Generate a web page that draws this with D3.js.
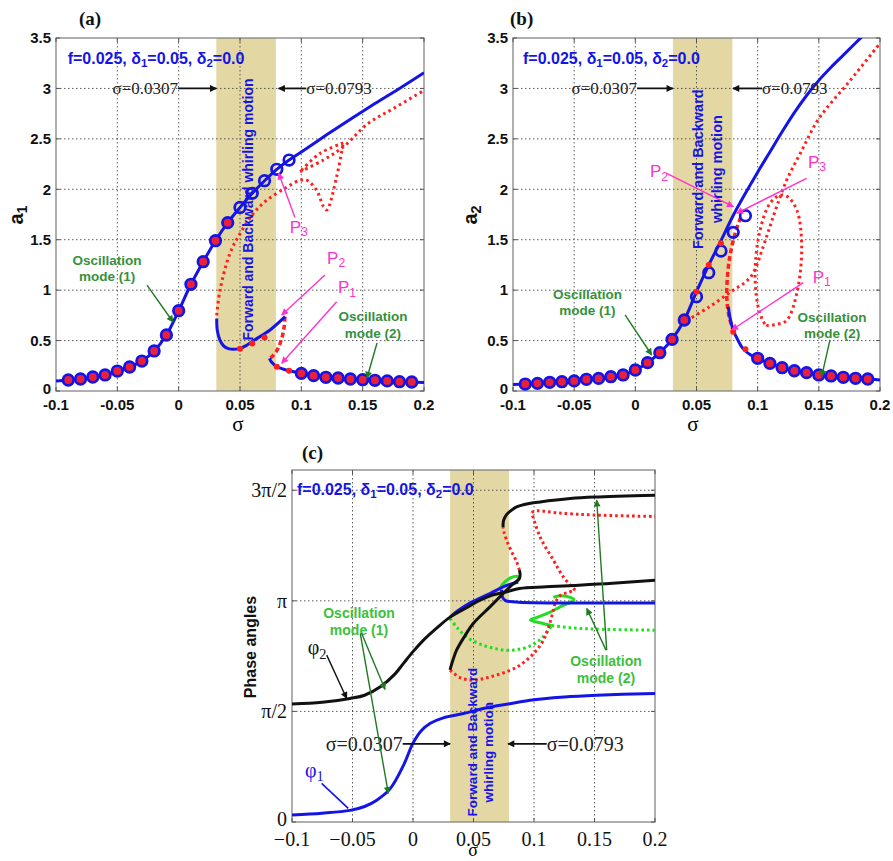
<!DOCTYPE html>
<html>
<head>
<meta charset="utf-8">
<script src="https://cdn.jsdelivr.net/npm/d3@7"></script>
<style>
body { margin: 0; background: #fff; }
svg { display: block; }
</style>
</head>
<body>
<svg id="fig" width="893" height="861"></svg>
<script>
// ---- axis ticks ----
var sigmaTicks = [-0.1, -0.05, 0, 0.05, 0.1, 0.15, 0.2]
var sigmaLabelsAB = ["-0.1", "-0.05", "0", "0.05", "0.1", "0.15", "0.2"]
var sigmaLabelsC = ["\u22120.1", "\u22120.05", "0", "0.05", "0.1", "0.15", "0.2"]
var ampTicks = [0, 0.5, 1, 1.5, 2, 2.5, 3, 3.5]
var ampLabels = ["0", "0.5", "1", "1.5", "2", "2.5", "3", "3.5"]
var phaseTicks = [0, Math.PI / 2, Math.PI, 3 * Math.PI / 2]
var phaseLabels = ["0", "\u03c0/2", "\u03c0", "3\u03c0/2"]
var whirlBand = [0.0307, 0.0793]

// ---- panel (a): a1 vs sigma ----
var a1Main = [[-0.1,0.1],[-0.09,0.109],[-0.08,0.119],[-0.07,0.139],[-0.06,0.159],[-0.05,0.198],[-0.04,0.238],[-0.03,0.297],[-0.02,0.397],[-0.01,0.555],[0,0.796],[0.01,1.058],[0.02,1.282],[0.03,1.49],[0.04,1.669],[0.05,1.82],[0.06,1.96],[0.07,2.085],[0.08,2.198],[0.09,2.29],[0.1,2.37],[0.12,2.535],[0.14,2.695],[0.16,2.85],[0.18,3.0],[0.2,3.156]]
var a1Mid = [[0.031,0.72],[0.0315,0.6],[0.0335,0.51],[0.0364,0.45],[0.0405,0.42],[0.0446,0.413],[0.05,0.423],[0.055,0.45],[0.061,0.5],[0.0745,0.605],[0.0867,0.737]]
var a1Dash = [[0.0867,0.737],[0.0858,0.62],[0.0835,0.5],[0.08,0.4],[0.076,0.34],[0.074,0.324]]
var a1Low = [[0.074,0.324],[0.0755,0.29],[0.078,0.26],[0.08,0.241],[0.085,0.218],[0.09,0.2],[0.1,0.175],[0.11,0.152],[0.12,0.136],[0.13,0.129],[0.14,0.119],[0.15,0.112],[0.16,0.106],[0.17,0.1],[0.18,0.092],[0.19,0.089],[0.2,0.085]]
var a1Unstable = [[0.031,0.75],[0.0337,1.0],[0.0418,1.365],[0.05,1.56],[0.0608,1.76],[0.0717,1.89],[0.088,2.02],[0.099,2.09],[0.1044,2.09],[0.1125,1.99],[0.118,1.83],[0.1207,1.795],[0.1288,2.125],[0.1342,2.46]]
var a1UnstableBack = [[0.1342,2.46],[0.1152,2.356],[0.0989,2.174]]
var a1UnstableTop = [[0.0989,2.174],[0.118,2.29],[0.1342,2.42],[0.1546,2.654],[0.175,2.8],[0.2,2.98]]
var a1SimStable = [[-0.09,0.109],[-0.08,0.119],[-0.07,0.139],[-0.06,0.159],[-0.05,0.198],[-0.04,0.238],[-0.03,0.297],[-0.02,0.397],[-0.01,0.555],[0,0.796],[0.01,1.058],[0.02,1.282],[0.03,1.49],[0.04,1.669]]
var a1SimOpen = [[0.05,1.82],[0.06,1.96],[0.07,2.085],[0.08,2.198],[0.09,2.29]]
var a1SimLow = [[0.1,0.175],[0.11,0.152],[0.12,0.136],[0.13,0.129],[0.14,0.119],[0.15,0.112],[0.16,0.106],[0.17,0.1],[0.18,0.092],[0.19,0.089]]
var a1SimDots = [[0.05,0.42],[0.06,0.47],[0.07,0.53],[0.08,0.241],[0.09,0.2]]

// ---- panel (b): a2 vs sigma ----
var a2Main = [[-0.1,0.065],[-0.09,0.069],[-0.08,0.076],[-0.07,0.086],[-0.06,0.092],[-0.05,0.1],[-0.04,0.116],[-0.03,0.125],[-0.02,0.142],[-0.01,0.159],[0,0.208],[0.01,0.281],[0.02,0.38],[0.03,0.512],[0.04,0.704],[0.05,0.985],[0.06,1.249],[0.07,1.49],[0.08,1.74],[0.09,1.96],[0.1,2.17],[0.11,2.37],[0.12,2.57],[0.13,2.76],[0.14,2.93],[0.15,3.08],[0.16,3.21],[0.17,3.33],[0.18,3.45],[0.19,3.57]]
var a2Dash = [[0.086,1.72],[0.0815,1.56],[0.078,1.38],[0.076,1.23],[0.0747,0.97],[0.0755,0.82],[0.0774,0.7],[0.08,0.605]]
var a2Low = [[0.076,0.836],[0.0775,0.72],[0.08,0.605],[0.084,0.5],[0.088,0.42],[0.094,0.36],[0.1,0.324],[0.11,0.274],[0.12,0.231],[0.13,0.201],[0.14,0.182],[0.15,0.159],[0.16,0.149],[0.17,0.136],[0.18,0.126],[0.19,0.119],[0.2,0.11]]
var a2Unstable = [[0.042,0.7],[0.06,0.83],[0.08,1.0],[0.09,1.08],[0.0964,1.17],[0.1045,1.43],[0.11,1.63],[0.1156,1.83],[0.1237,2.09],[0.135,2.36],[0.15,2.7],[0.175,3.07],[0.2,3.447]]
var a2Loop = [[0.1019,0.77],[0.107,0.654],[0.115,0.66],[0.1237,0.7],[0.132,0.97],[0.136,1.43],[0.132,1.795],[0.124,1.93],[0.118,1.94],[0.11,1.86],[0.102,1.596],[0.098,1.23],[0.099,0.935]]
var a2SimStable = [[-0.09,0.069],[-0.08,0.076],[-0.07,0.086],[-0.06,0.092],[-0.05,0.1],[-0.04,0.116],[-0.03,0.125],[-0.02,0.142],[-0.01,0.159],[0,0.208],[0.01,0.281],[0.02,0.38],[0.03,0.512],[0.04,0.704]]
var a2SimOpen = [[0.05,0.935],[0.06,1.173],[0.07,1.388],[0.08,1.573],[0.09,1.738]]
var a2SimLow = [[0.1,0.324],[0.11,0.274],[0.12,0.231],[0.13,0.201],[0.14,0.182],[0.15,0.159],[0.16,0.149],[0.17,0.136],[0.18,0.126],[0.19,0.119]]
var a2SimDots = [[0.05,0.985],[0.06,1.249],[0.07,1.464],[0.08,0.588],[0.09,0.413]]

// ---- panel (c): phase angles vs sigma ----
var phi1Main = [[-0.1,0.1],[-0.075,0.125],[-0.052,0.165],[-0.04,0.22],[-0.03,0.31],[-0.019,0.47],[-0.008,0.8],[0,1.12],[0.007,1.3],[0.014,1.4],[0.025,1.48],[0.0416,1.54],[0.06,1.62],[0.08,1.68],[0.0967,1.73],[0.125,1.775],[0.152,1.8],[0.2,1.827]]
var phi2Main = [[-0.1,1.675],[-0.075,1.7],[-0.052,1.755],[-0.04,1.8],[-0.027,1.92],[-0.015,2.1],[-0.008,2.25],[0,2.42],[0.0085,2.58],[0.02,2.76],[0.0306,2.91],[0.045,3.05],[0.0554,3.15],[0.065,3.22],[0.0774,3.27],[0.088,3.317],[0.11,3.34],[0.134,3.36],[0.165,3.39],[0.2,3.435]]
var phi2Upper = [[0.0744,4.19],[0.0748,4.28],[0.077,4.36],[0.0815,4.43],[0.0857,4.475],[0.095,4.52],[0.105,4.546],[0.13,4.594],[0.15,4.615],[0.2,4.641]]
var phi2Z = [[0.0306,2.16],[0.033,2.3],[0.036,2.44],[0.042,2.62],[0.0498,2.82],[0.0636,3.056],[0.0746,3.245],[0.082,3.37],[0.088,3.46],[0.0885,3.52],[0.0879,3.577]]
var phiRedUp = [[0.0879,3.577],[0.0857,3.694],[0.0816,3.836],[0.0774,4.0],[0.0752,4.12],[0.0744,4.19]]
var phiRedLow = [[0.0306,2.157],[0.0389,2.05],[0.0498,2.015],[0.0636,2.06],[0.0857,2.2],[0.0995,2.39],[0.1077,2.58],[0.113,2.82],[0.116,3.01],[0.118,3.13],[0.122,3.22],[0.128,3.26],[0.134,3.293]]
var phiRedBack = [[0.134,3.293],[0.1243,3.48],[0.116,3.72],[0.105,4.05],[0.098,4.4]]
var phiRedTop = [[0.098,4.4],[0.102,4.42],[0.12,4.39],[0.15,4.36],[0.2,4.34]]
var phiBlueUp = [[0.0306,2.91],[0.037,3.0],[0.047,3.11],[0.0636,3.245],[0.0774,3.36],[0.087,3.41]]
var phiBlueFlat = [[0.0733,3.3],[0.0738,3.2],[0.0765,3.145],[0.085,3.125],[0.1,3.115],[0.15,3.112],[0.2,3.11]]
var phiGreenDip = [[0.0306,2.89],[0.037,2.75],[0.045,2.62],[0.055,2.53],[0.065,2.475],[0.0774,2.44],[0.091,2.465],[0.1,2.53],[0.107,2.62],[0.1147,2.79]]
var phiGreenKnot = [[0.1147,2.79],[0.105,2.83],[0.097,2.87],[0.103,2.91],[0.112,2.97],[0.122,3.06],[0.13,3.12],[0.133,3.16],[0.128,3.2],[0.12,3.21],[0.116,3.19]]
var phiGreenFlat = [[0.1147,2.79],[0.13,2.76],[0.15,2.74],[0.2,2.725]]
var phiGreenArc = [[0.072,3.33],[0.076,3.41],[0.081,3.47],[0.0857,3.49],[0.088,3.46]]

// ---- annotation anchors (data units: [sigma, value]) ----
var annA = {params:[-0.0905,3.3], lo:[-0.0005,3.0], hi:[0.104,3.0], loHead:[0.0307,3.0], hiHead:[0.0815,3.0],
  whirl:[0.0565,1.8], osc1:[-0.0584,1.3], osc1Arrow:[[-0.0258,1.05],[-0.0046,0.684]],
  osc2:[0.1584,0.74], osc2Arrow:[[0.1617,0.476],[0.1535,0.129]],
  p3:[0.0905,1.63], p3Arrow:[[0.0948,1.72],[0.0815,2.16]],
  p2:[0.121,1.32], p2Arrow:[[0.1193,1.15],[0.084,0.753]],
  p1:[0.1299,1.03], p1Arrow:[[0.1288,0.885],[0.084,0.275]]}
var annB = {params:[-0.0918,3.3], lo:[0.0014,3.0], hi:[0.1035,3.0], loHead:[0.0307,3.0], hiHead:[0.0798,3.0],
  whirl1:[0.0512,2.2], whirl2:[0.0668,2.2], osc1:[-0.0391,0.962], osc1Arrow:[[-0.0084,0.754],[0.0134,0.357]],
  osc2:[0.1608,0.737], osc2Arrow:[[0.1591,0.506],[0.1523,0.142]],
  p2:[0.012,2.18], p2Arrow:[[0.0256,2.158],[0.0801,1.827]],
  p3:[0.1411,2.27], p3Arrow:[[0.14,2.109],[0.0829,1.762]],
  p1:[0.145,1.133], p1Arrow:[[0.1373,1.074],[0.0788,0.605]]}
var annC = {params:[-0.0959,4.73], lo:[-0.0085,1.11], hi:[0.1105,1.11], loHead:[0.0307,1.11], hiHead:[0.0785,1.11],
  whirl1:[0.0488,1.135], whirl2:[0.062,0.99],
  phi2:[-0.087,2.484], phi2Arrow:[[-0.0713,2.37],[-0.0548,1.755]],
  phi1:[-0.0893,0.738], phi1Line:[[-0.0755,0.549],[-0.0535,0.194]],
  osc1:[-0.0446,2.973], osc1Arrows:[[[-0.0424,2.678],[-0.0231,1.883]],[[-0.0436,2.678],[-0.0204,0.407]]],
  osc2:[0.1595,2.288], osc2Arrows:[[[0.1601,2.441],[0.1518,4.57]],[[0.1595,2.441],[0.1436,3.033]]]}

// ---- styles ----
var SANS = "'Liberation Sans', Arial, Helvetica, sans-serif"
var SERIF = "'Liberation Serif', 'Times New Roman', Times, serif"
var BLUE = "#1414e6", RED = "#ff1f1f", BLACK = "#111111", GREEN = "#22dd22"
var TEXT_GREEN = "#35913a", PINK = "#ff33cc", ARROW_GREEN = "#1f7a24"

var svg = d3.select("#fig")
var defs = svg.append("defs")
svg.append("rect").attr("width", 893).attr("height", 861).attr("fill", "#fff")

var heads = {black: BLACK, green: ARROW_GREEN, pink: PINK}
Object.keys(heads).forEach(function(k) {
    defs.append("marker")
        .attr("id", "head-" + k)
        .attr("viewBox", "0 0 10 10")
        .attr("refX", 9).attr("refY", 5)
        .attr("markerWidth", 9).attr("markerHeight", 7)
        .attr("markerUnits", "userSpaceOnUse")
        .attr("orient", "auto")
        .append("path").attr("d", "M0,0L10,5L0,10z").attr("fill", heads[k])
})

function makePanel(id, box, yDomain, yTicks, yLabels, xLabels, tickFont) {
    var g = svg.append("g").attr("transform", "translate(" + box.left + "," + box.top + ")")
    var x = d3.scaleLinear().domain([-0.1, 0.2]).range([0, box.width])
    var y = d3.scaleLinear().domain(yDomain).range([box.height, 0])

    defs.append("clipPath").attr("id", "clip-" + id)
        .append("rect").attr("width", box.width).attr("height", box.height)

    g.append("rect")
        .attr("x", x(whirlBand[0]))
        .attr("width", x(whirlBand[1]) - x(whirlBand[0]))
        .attr("height", box.height)
        .attr("fill", "#e3d7a3")

    g.selectAll("vgrid")
        .data(sigmaTicks.slice(1, -1)).enter()
        .append("line")
            .attr("x1", function(d) { return x(d) }).attr("x2", function(d) { return x(d) })
            .attr("y1", 0).attr("y2", box.height)
            .attr("stroke", "#333").attr("stroke-width", 0.8).attr("stroke-dasharray", "1.5,2.5")

    g.selectAll("hgrid")
        .data(yTicks.filter(function(t) { return t > yDomain[0] && t < yDomain[1] })).enter()
        .append("line")
            .attr("x1", 0).attr("x2", box.width)
            .attr("y1", function(d) { return y(d) }).attr("y2", function(d) { return y(d) })
            .attr("stroke", "#333").attr("stroke-width", 0.8).attr("stroke-dasharray", "1.5,2.5")

    g.append("rect")
        .attr("width", box.width).attr("height", box.height)
        .attr("fill", "none").attr("stroke", "#7a7a7a").attr("stroke-width", 1.2)

    // inward tick marks
    sigmaTicks.forEach(function(t) {
        g.append("line").attr("x1", x(t)).attr("x2", x(t)).attr("y1", box.height).attr("y2", box.height - 4).attr("stroke", "#555")
        g.append("line").attr("x1", x(t)).attr("x2", x(t)).attr("y1", 0).attr("y2", 4).attr("stroke", "#555")
    })
    yTicks.forEach(function(t) {
        g.append("line").attr("x1", 0).attr("x2", 4).attr("y1", y(t)).attr("y2", y(t)).attr("stroke", "#555")
        g.append("line").attr("x1", box.width).attr("x2", box.width - 4).attr("y1", y(t)).attr("y2", y(t)).attr("stroke", "#555")
    })

    g.selectAll("xlab")
        .data(sigmaTicks).enter()
        .append("text")
            .attr("x", function(d) { return x(d) })
            .attr("y", box.height + tickFont.xOffset)
            .attr("text-anchor", "middle")
            .attr("font-family", tickFont.family).attr("font-size", tickFont.size)
            .attr("font-weight", tickFont.weight).attr("fill", "#111")
            .text(function(d, i) { return xLabels[i] })

    g.selectAll("ylab")
        .data(yTicks).enter()
        .append("text")
            .attr("x", -5)
            .attr("y", function(d) { return y(d) })
            .attr("dy", function(d) { return d === 0 ? "0.2em" : "0.35em" })
            .attr("text-anchor", "end")
            .attr("font-family", tickFont.family).attr("font-size", tickFont.size)
            .attr("font-weight", tickFont.weight).attr("fill", "#111")
            .text(function(d, i) { return yLabels[i] })

    var plot = g.append("g").attr("clip-path", "url(#clip-" + id + ")")
    var line = d3.line()
        .x(function(d) { return x(d[0]) })
        .y(function(d) { return y(d[1]) })
        .curve(d3.curveCatmullRom.alpha(0.5))
    return {g: g, plot: plot, x: x, y: y, line: line, box: box}
}

function curve(p, data, color, width, dash, closed) {
    var gen = closed ? p.line.curve(d3.curveCatmullRomClosed.alpha(0.5)) : p.line
    var path = p.plot.append("path")
        .attr("d", gen(data))
        .attr("fill", "none")
        .attr("stroke", color)
        .attr("stroke-width", width)
        .attr("stroke-linejoin", "round")
    if (dash) path.attr("stroke-dasharray", dash)
    p.line.curve(d3.curveCatmullRom.alpha(0.5))
    return path
}

function markers(p, data, fill) {
    p.plot.selectAll(null)
        .data(data).enter()
        .append("circle")
            .attr("cx", function(d) { return p.x(d[0]) })
            .attr("cy", function(d) { return p.y(d[1]) })
            .attr("r", 5.3)
            .attr("fill", fill)
            .attr("stroke", BLUE)
            .attr("stroke-width", 2.7)
}

function dots(p, data) {
    p.plot.selectAll(null)
        .data(data).enter()
        .append("circle")
            .attr("cx", function(d) { return p.x(d[0]) })
            .attr("cy", function(d) { return p.y(d[1]) })
            .attr("r", 3)
            .attr("fill", RED)
}

function arrow(p, from, to, color, head, width) {
    var l = p.g.append("line")
        .attr("x1", p.x(from[0])).attr("y1", p.y(from[1]))
        .attr("x2", p.x(to[0])).attr("y2", p.y(to[1]))
        .attr("stroke", color).attr("stroke-width", width || 1.4)
    if (head) l.attr("marker-end", "url(#head-" + head + ")")
}

// parts: strings, or [string] for a subscript
function label(g, x, y, parts, o) {
    var t = g.append("text")
        .attr("x", x).attr("y", y)
        .attr("font-family", o.family).attr("font-size", o.size)
        .attr("font-weight", o.weight || "normal")
        .attr("fill", o.fill)
        .attr("text-anchor", o.anchor || "start")
        .attr("dominant-baseline", "central")
    if (o.rotate) t.attr("transform", "rotate(-90," + x + "," + y + ")")
    var shift = 0
    parts.forEach(function(part) {
        var sub = Array.isArray(part)
        var target = sub ? o.size * 0.32 : 0
        var s = t.append("tspan").text(sub ? part[0] : part).attr("dy", target - shift)
        if (sub) s.attr("font-size", o.size * 0.72)
        shift = target
    })
    return t
}

function at(p, d) { return [p.x(d[0]), p.y(d[1])] }

var paramParts = ["f=0.025, \u03b4", ["1"], "=0.05, \u03b4", ["2"], "=0.0"]

function sigmaMarks(p, ann, size) {
    var lo = at(p, ann.lo), hi = at(p, ann.hi)
    label(p.g, lo[0], lo[1], ["\u03c3=0.0307"], {family: SERIF, size: size, fill: "#222", anchor: "end"})
    label(p.g, hi[0], hi[1], ["\u03c3=0.0793"], {family: SERIF, size: size, fill: "#222"})
    arrow(p, ann.lo, ann.loHead, BLACK, "black", 1.8)
    arrow(p, ann.hi, ann.hiHead, BLACK, "black", 1.8)
}

function oscLabel(p, pos, num, size, fill) {
    var c = at(p, pos)
    label(p.g, c[0], c[1], ["Oscillation"], {family: SANS, size: size, weight: "bold", fill: fill, anchor: "middle"})
    label(p.g, c[0], c[1] + size * 1.2, ["mode (" + num + ")"], {family: SANS, size: size, weight: "bold", fill: fill, anchor: "middle"})
}

function pLabel(p, pos, num) {
    var c = at(p, pos)
    label(p.g, c[0], c[1], ["P", [num]], {family: SANS, size: 17, fill: PINK})
}

var abFont = {family: SANS, size: 15, weight: "bold", xOffset: 19}

// ================= panel (a) =================
var pa = makePanel("a", {left: 56, top: 38, width: 368, height: 353}, [0, 3.5], ampTicks, ampLabels, sigmaLabelsAB, abFont)

curve(pa, a1Unstable, RED, 3, "2.6,3.4")
curve(pa, a1UnstableBack, RED, 3, "2.6,3.4")
curve(pa, a1UnstableTop, RED, 3, "2.6,3.4")
curve(pa, a1Dash, RED, 3.5, "5,3")
curve(pa, a1Main, BLUE, 3)
curve(pa, a1Mid, BLUE, 3)
curve(pa, a1Low, BLUE, 3)
markers(pa, a1SimStable, "#e8203a")
markers(pa, a1SimOpen, "none")
markers(pa, a1SimLow, "#e8203a")
dots(pa, a1SimDots)

label(pa.g, at(pa, annA.params)[0], at(pa, annA.params)[1], paramParts, {family: SANS, size: 16, weight: "bold", fill: BLUE})
sigmaMarks(pa, annA, 17)
label(pa.g, at(pa, annA.whirl)[0], at(pa, annA.whirl)[1], ["Forward and Backward whirling motion"],
      {family: SANS, size: 14, weight: "bold", fill: BLUE, anchor: "middle", rotate: true})
oscLabel(pa, annA.osc1, 1, 13.5, TEXT_GREEN)
arrow(pa, annA.osc1Arrow[0], annA.osc1Arrow[1], ARROW_GREEN, "green", 1.4)
oscLabel(pa, annA.osc2, 2, 13.5, TEXT_GREEN)
arrow(pa, annA.osc2Arrow[0], annA.osc2Arrow[1], ARROW_GREEN, "green", 1.4)
pLabel(pa, annA.p3, "3"); arrow(pa, annA.p3Arrow[0], annA.p3Arrow[1], PINK, "pink", 1.4)
pLabel(pa, annA.p2, "2"); arrow(pa, annA.p2Arrow[0], annA.p2Arrow[1], PINK, "pink", 1.4)
pLabel(pa, annA.p1, "1"); arrow(pa, annA.p1Arrow[0], annA.p1Arrow[1], PINK, "pink", 1.4)

// ================= panel (b) =================
var pb = makePanel("b", {left: 513, top: 38, width: 367, height: 353}, [0, 3.5], ampTicks, ampLabels, sigmaLabelsAB, abFont)

curve(pb, a2Unstable, RED, 3, "2.6,3.4")
curve(pb, a2Loop, RED, 3, "2.6,3.4", true)
curve(pb, a2Dash, RED, 3.5, "5,3")
curve(pb, a2Main, BLUE, 3)
curve(pb, a2Low, BLUE, 3)
markers(pb, a2SimStable, "#e8203a")
markers(pb, a2SimOpen, "none")
markers(pb, a2SimLow, "#e8203a")
dots(pb, a2SimDots)

label(pb.g, at(pb, annB.params)[0], at(pb, annB.params)[1], paramParts, {family: SANS, size: 16, weight: "bold", fill: BLUE})
sigmaMarks(pb, annB, 17)
label(pb.g, at(pb, annB.whirl1)[0], at(pb, annB.whirl1)[1], ["Forward and Backward"],
      {family: SANS, size: 14.5, weight: "bold", fill: BLUE, anchor: "middle", rotate: true})
label(pb.g, at(pb, annB.whirl2)[0], at(pb, annB.whirl2)[1], ["whirling motion"],
      {family: SANS, size: 14.5, weight: "bold", fill: BLUE, anchor: "middle", rotate: true})
oscLabel(pb, annB.osc1, 1, 13.5, TEXT_GREEN)
arrow(pb, annB.osc1Arrow[0], annB.osc1Arrow[1], ARROW_GREEN, "green", 1.4)
oscLabel(pb, annB.osc2, 2, 13.5, TEXT_GREEN)
arrow(pb, annB.osc2Arrow[0], annB.osc2Arrow[1], ARROW_GREEN, "green", 1.4)
pLabel(pb, annB.p2, "2"); arrow(pb, annB.p2Arrow[0], annB.p2Arrow[1], PINK, "pink", 1.4)
pLabel(pb, annB.p3, "3"); arrow(pb, annB.p3Arrow[0], annB.p3Arrow[1], PINK, "pink", 1.4)
pLabel(pb, annB.p1, "1"); arrow(pb, annB.p1Arrow[0], annB.p1Arrow[1], PINK, "pink", 1.4)

// ================= panel (c) =================
var cFont = {family: SERIF, size: 20, weight: "normal", xOffset: 24}
var pc = makePanel("c", {left: 292, top: 470, width: 363, height: 352}, [0, 5], phaseTicks, phaseLabels, sigmaLabelsC, cFont)

var dotted = "2.6,3"
curve(pc, phiGreenDip, GREEN, 3, dotted)
curve(pc, phiGreenFlat, GREEN, 3, dotted)
curve(pc, phiGreenKnot, GREEN, 3)
curve(pc, phiGreenArc, GREEN, 3)
curve(pc, phiRedLow, RED, 3, dotted)
curve(pc, phiRedBack, RED, 3, dotted)
curve(pc, phiRedTop, RED, 3, dotted)
curve(pc, phiRedUp, RED, 3, dotted)
curve(pc, phiBlueUp, BLUE, 3)
curve(pc, phiBlueFlat, BLUE, 3)
curve(pc, phi1Main, BLUE, 3)
curve(pc, phi2Main, BLACK, 3)
curve(pc, phi2Z, BLACK, 3)
curve(pc, phi2Upper, BLACK, 3)

label(pc.g, at(pc, annC.params)[0], at(pc, annC.params)[1], paramParts, {family: SANS, size: 16, weight: "bold", fill: BLUE})
sigmaMarks(pc, annC, 20)
label(pc.g, at(pc, annC.whirl1)[0], at(pc, annC.whirl1)[1], ["Forward and Backward"],
      {family: SANS, size: 13.5, weight: "bold", fill: BLUE, anchor: "middle", rotate: true})
label(pc.g, at(pc, annC.whirl2)[0], at(pc, annC.whirl2)[1], ["whirling motion"],
      {family: SANS, size: 13.5, weight: "bold", fill: BLUE, anchor: "middle", rotate: true})
label(pc.g, at(pc, annC.phi2)[0], at(pc, annC.phi2)[1], ["\u03c6", ["2"]], {family: SERIF, size: 20, fill: BLACK})
arrow(pc, annC.phi2Arrow[0], annC.phi2Arrow[1], BLACK, "black", 1.4)
label(pc.g, at(pc, annC.phi1)[0], at(pc, annC.phi1)[1], ["\u03c6", ["1"]], {family: SERIF, size: 20, fill: BLUE})
arrow(pc, annC.phi1Line[0], annC.phi1Line[1], BLUE, null, 1.6)
oscLabel(pc, annC.osc1, 1, 14, "#3cbf3c")
annC.osc1Arrows.forEach(function(a) { arrow(pc, a[0], a[1], ARROW_GREEN, "green", 1.4) })
oscLabel(pc, annC.osc2, 2, 14, "#3cbf3c")
annC.osc2Arrows.forEach(function(a) { arrow(pc, a[0], a[1], ARROW_GREEN, "green", 1.4) })

// ---- panel letters and axis titles ----
function plain(x, y, txt, o) {
    return label(svg, x, y, [txt], o)
}
plain(79, 18, "(a)", {family: SERIF, size: 19, weight: "bold", fill: "#111"})
plain(510, 18, "(b)", {family: SERIF, size: 19, weight: "bold", fill: "#111"})
plain(302, 452, "(c)", {family: SERIF, size: 19, weight: "bold", fill: "#111"})

svg.append("text").attr("x", 238).attr("y", 431).attr("text-anchor", "middle")
    .attr("font-family", SERIF).attr("font-size", 21).text("\u03c3")
svg.append("text").attr("x", 693).attr("y", 431).attr("text-anchor", "middle")
    .attr("font-family", SERIF).attr("font-size", 21).text("\u03c3")
svg.append("text").attr("x", 473).attr("y", 856).attr("text-anchor", "middle")
    .attr("font-family", SERIF).attr("font-size", 18).text("\u03c3")

label(svg, 16, 215, ["a", ["1"]], {family: SANS, size: 20, weight: "bold", fill: "#111", anchor: "middle", rotate: true})
label(svg, 470, 215, ["a", ["2"]], {family: SANS, size: 20, weight: "bold", fill: "#111", anchor: "middle", rotate: true})
label(svg, 250, 647, ["Phase angles"], {family: SANS, size: 16, weight: "bold", fill: "#111", anchor: "middle", rotate: true})
</script>
</body>
</html>
